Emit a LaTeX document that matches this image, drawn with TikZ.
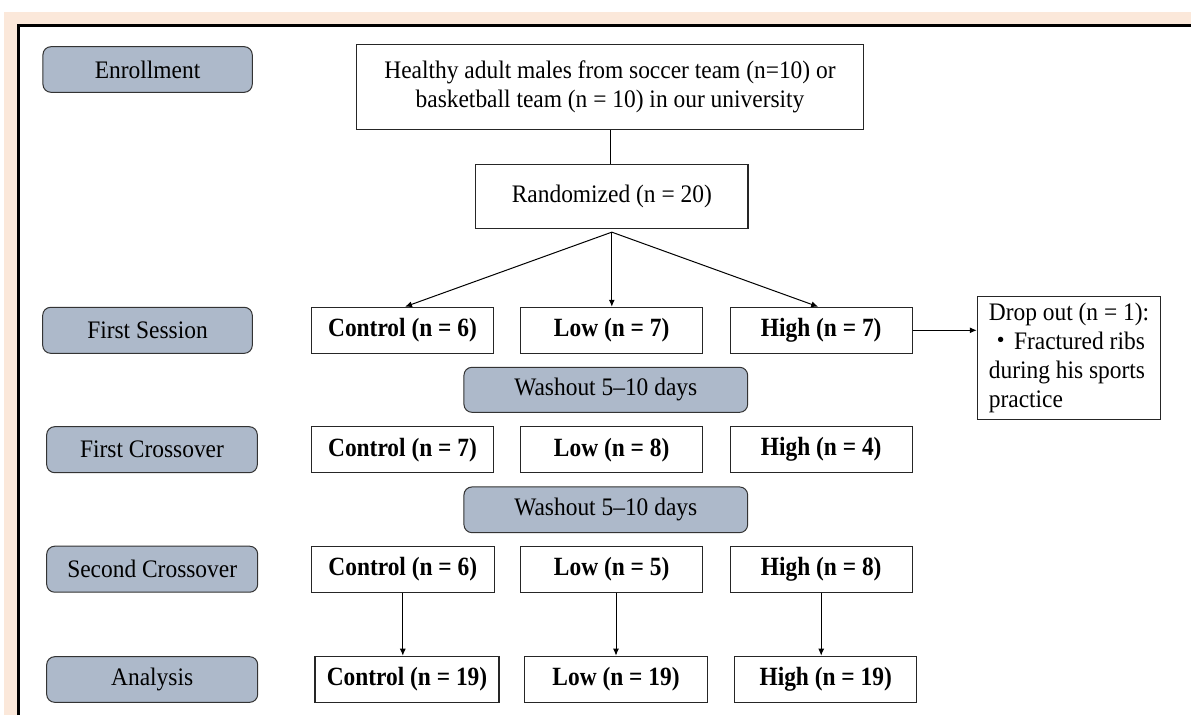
\documentclass[tikz,border=0pt]{standalone}
\usepackage{fontspec}
\setmainfont{Liberation Serif}[FakeStretch=0.93]
\newfontfamily\boldfam{Liberation Serif}[FakeStretch=0.89]
\newfontfamily\cjk{Noto Sans CJK JP}
\usetikzlibrary{arrows.meta}
\definecolor{peach}{RGB}{251,232,218}
\definecolor{slate}{RGB}{173,185,202}
\tikzset{
  wb/.style={draw=black!85, line width=1.1pt, fill=white, inner sep=0pt, align=center,
    font=\fontsize{25.2}{29}\selectfont},
  bb/.style={wb, font=\fontsize{26.3}{29}\selectfont\boldfam\bfseries},
  gb/.style={draw=black!80, line width=1pt, fill=slate, rounded corners=8pt, inner sep=0pt,
    align=center, font=\fontsize{25.2}{29}\selectfont},
  arr/.style={line width=1pt, -{Latex[length=7pt,width=6pt]}},
  ln/.style={line width=1pt}
}
\begin{document}
\begin{tikzpicture}[x=1pt,y=-1pt]
\useasboundingbox (0,0) rectangle (1191,715);
\fill[peach] (4,12) rectangle (1191,715);
\fill[white] (19,26) rectangle (1191,715);
\draw[line width=2.6pt] (18.7,715) -- (18.7,25.3) -- (1191,25.3);

% left stage labels
\node[gb, minimum width=209.3, minimum height=45.6] (enr) at (147.6,69.5) {Enrollment};
\node[gb, minimum width=209.6, minimum height=46] (fs) at (147.5,330.3) {First Session};
\node[gb, minimum width=210.6, minimum height=46] (fc) at (152,449.7) {First Crossover};
\node[gb, minimum width=211, minimum height=46] (sc) at (152.2,569.2) {Second Crossover};
\node[gb, minimum width=211, minimum height=45.6] (an) at (152.2,679.5) {Analysis};

% top
\node[wb, minimum width=506.6, minimum height=85] (heal) at (610,86.8)
  {Healthy adult males from soccer team (n=10) or\\basketball team (n = 10) in our university};
\node[wb, minimum width=272.3, minimum height=64] (rand) at (611.8,196.3) {Randomized (n = 20)};

% first session
\node[bb, minimum width=181.6, minimum height=46] (c1) at (402.5,330.3) {Control (n = 6)};
\node[bb, minimum width=182, minimum height=46] (l1) at (611.7,330.3) {Low (n = 7)};
\node[bb, minimum width=182.3, minimum height=46] (h1) at (821.2,330.3) {High (n = 7)};

\node[gb, minimum width=283.7, minimum height=45] (w1) at (605.8,389.8) {Washout 5--10 days};

% first crossover
\node[bb, minimum width=181.6, minimum height=46] (c2) at (402.5,449.7) {Control (n = 7)};
\node[bb, minimum width=182, minimum height=46] (l2) at (611.7,449.7) {Low (n = 8)};
\node[bb, minimum width=182.3, minimum height=46] (h2) at (821.2,449.7) {High (n = 4)};

\node[gb, minimum width=283.7, minimum height=45.7] (w2) at (605.8,509.8) {Washout 5--10 days};

% second crossover
\node[bb, minimum width=182.5, minimum height=46] (c3) at (402.8,569.2) {Control (n = 6)};
\node[bb, minimum width=182, minimum height=46] (l3) at (611.7,569.2) {Low (n = 5)};
\node[bb, minimum width=182.3, minimum height=46] (h3) at (821.2,569.2) {High (n = 8)};

% analysis
\node[bb, minimum width=184, minimum height=46] (ac) at (407,679.2) {Control (n = 19)};
\node[bb, minimum width=183, minimum height=46] (al) at (616,679.2) {Low (n = 19)};
\node[bb, minimum width=182, minimum height=46] (ah) at (825.7,679.2) {High (n = 19)};

% drop out
\node[wb, minimum width=183.4, minimum height=122.6, align=left] (drop) at (1069,358)
  {Drop out (n = 1):\\{\cjk ・}Fractured ribs\\during his sports\\practice};

% connectors
\draw[ln] (heal.south) -- (heal.south |- rand.north);
\coordinate (split) at ([yshift=-3.3]rand.south);
\draw[arr] (split) -- ([xshift=2.5]c1.north);
\draw[arr] (split) -- (split |- l1.north);
\draw[arr] (split) -- ([xshift=-3]h1.north);
\draw[arr] (h1.east) -- (h1.east -| drop.west);
\draw[arr] (c3.south) -- (c3.south |- ac.north);
\draw[arr] (l3.south -| al.north) -- (al.north);
\draw[arr] (h3.south) -- (h3.south |- ah.north);
\end{tikzpicture}
\end{document}
